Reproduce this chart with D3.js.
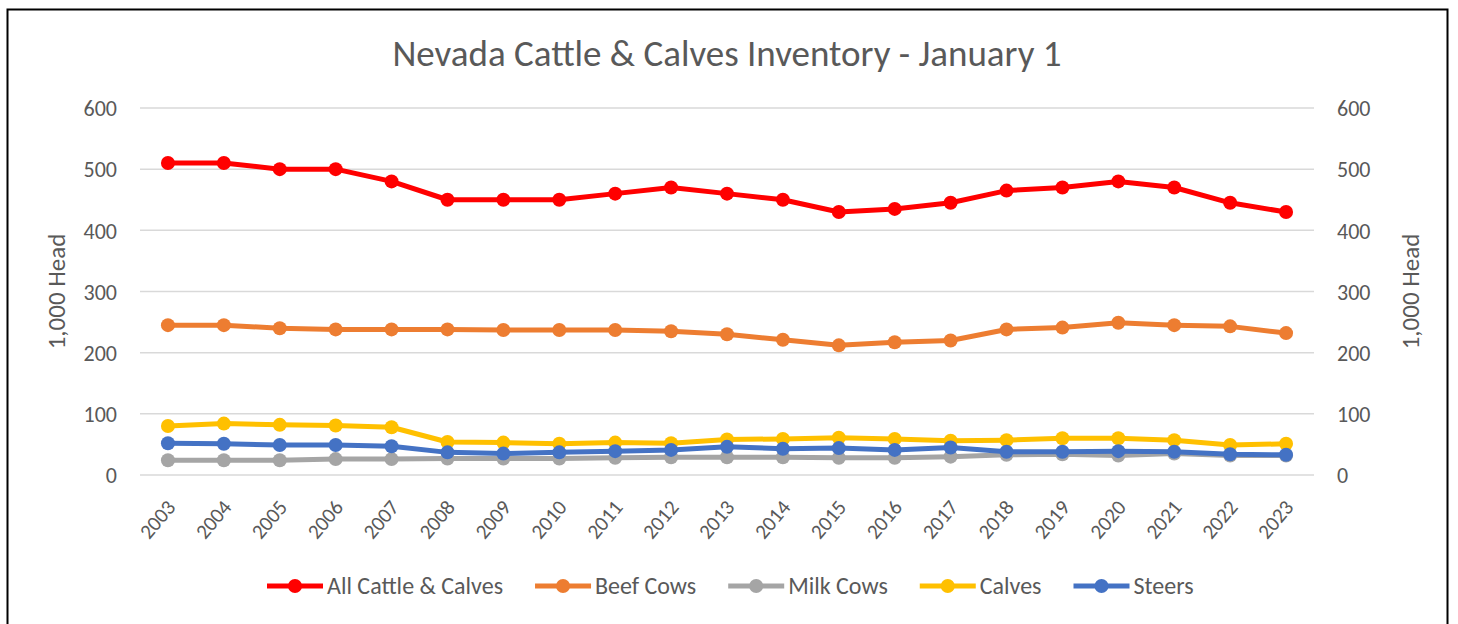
<!DOCTYPE html>
<html>
<head>
<meta charset="utf-8">
<script src="https://cdn.jsdelivr.net/npm/d3@7"></script>
<style>
  body { margin: 0; background: #fff; }
  svg text { font-family: Carlito, "Open Sans", sans-serif; fill: #595959; }
</style>
</head>
<body>
<script>
// Nevada Cattle & Calves Inventory, thousand head, Jan 1
const years = d3.range(2003, 2024).map(String);
const allCattle = [510, 510, 500, 500, 480, 450, 450, 450, 460, 470, 460, 450, 430, 435, 445, 465, 470, 480, 470, 445, 430];
const beefCows = [245, 245, 240, 238, 238, 238, 237, 237, 237, 235, 230, 221, 212, 217, 220, 238, 241, 249, 245, 243, 232];
const milkCows = [24, 24, 24, 26, 26, 27, 27, 27, 28, 29, 29, 29, 28, 28, 30, 33, 34, 32, 35, 32, 32];
const calves = [80, 84, 82, 81, 78, 54, 53, 51, 53, 52, 58, 59, 61, 59, 56, 57, 60, 60, 57, 49, 51];
const steers = [52, 51, 49, 49, 47, 37, 35, 37, 39, 41, 46, 43, 44, 41, 45, 38, 38, 39, 38, 34, 33];
const yTicks = [0, 100, 200, 300, 400, 500, 600];

const series = [
  { name: "All Cattle & Calves", values: allCattle, color: "#ff0000" },
  { name: "Beef Cows", values: beefCows, color: "#ed7d31" },
  { name: "Milk Cows", values: milkCows, color: "#a5a5a5" },
  { name: "Calves", values: calves, color: "#ffc000" },
  { name: "Steers", values: steers, color: "#4472c4" }
];

const width = 1458, height = 624;
const margin = { top: 108, right: 144, bottom: 149, left: 140 };

const svg = d3.select("body").append("svg")
  .attr("width", width)
  .attr("height", height);

// chart frame
svg.append("rect")
  .attr("x", 7.5).attr("y", 9.5)
  .attr("width", 1440).attr("height", 640)
  .attr("fill", "none")
  .attr("stroke", "#000")
  .attr("stroke-width", 2);

const x = d3.scaleBand()
  .domain(years)
  .range([margin.left, width - margin.right]);

const y = d3.scaleLinear()
  .domain([0, 600])
  .range([height - margin.bottom, margin.top]);

// gridlines
svg.append("g")
  .selectAll("line")
  .data(yTicks)
  .join("line")
  .attr("x1", margin.left)
  .attr("x2", width - margin.right)
  .attr("y1", (d) => y(d))
  .attr("y2", (d) => y(d))
  .attr("stroke", "#d9d9d9")
  .attr("stroke-width", 1.5);

// left axis
const leftAxis = svg.append("g")
  .attr("transform", `translate(${margin.left - 23},0)`)
  .call(d3.axisLeft(y).tickValues(yTicks).tickSize(0).tickPadding(0));
leftAxis.select(".domain").remove();
leftAxis.selectAll("text").attr("font-size", 22).attr("dy", "0.35em");

// right axis
const rightAxis = svg.append("g")
  .attr("transform", `translate(${width - margin.right + 23},0)`)
  .call(d3.axisRight(y).tickValues(yTicks).tickSize(0).tickPadding(0));
rightAxis.select(".domain").remove();
rightAxis.selectAll("text").attr("font-size", 22).attr("dy", "0.35em");

// x axis
const xAxis = svg.append("g")
  .attr("transform", `translate(0,${height - margin.bottom})`)
  .call(d3.axisBottom(x).tickSize(0).tickPadding(0));
xAxis.select(".domain").remove();
xAxis.selectAll("text")
  .attr("font-size", 21)
  .attr("text-anchor", "end")
  .attr("dy", "0.35em")
  .attr("transform", "translate(3,28) rotate(-50)");

// axis titles
svg.append("text")
  .attr("transform", `translate(65,${y(300)}) rotate(-90)`)
  .attr("text-anchor", "middle")
  .attr("font-size", 25)
  .text("1,000 Head");

svg.append("text")
  .attr("transform", `translate(1419,${y(300)}) rotate(-90)`)
  .attr("text-anchor", "middle")
  .attr("font-size", 25)
  .text("1,000 Head");

// title
svg.append("text")
  .attr("x", 727)
  .attr("y", 66)
  .attr("text-anchor", "middle")
  .attr("font-size", 37)
  .text("Nevada Cattle & Calves Inventory - January 1");

const line = d3.line()
  .x((d, i) => x(years[i]) + x.bandwidth() / 2)
  .y((d) => y(d));

const plot = svg.append("g");
const groups = plot.selectAll("g")
  .data(series)
  .join("g");

groups.append("path")
  .attr("d", (d) => line(d.values))
  .attr("fill", "none")
  .attr("stroke", (d) => d.color)
  .attr("stroke-width", 5)
  .attr("stroke-linejoin", "round");

groups.selectAll("circle")
  .data((d) => d.values.map((v, i) => ({ v, i, color: d.color })))
  .join("circle")
  .attr("cx", (d) => x(years[d.i]) + x.bandwidth() / 2)
  .attr("cy", (d) => y(d.v))
  .attr("r", 7)
  .attr("fill", (d) => d.color);

// legend
const legend = svg.append("g").attr("transform", "translate(0,586)");
let lx = 267;
series.forEach((s) => {
  const item = legend.append("g").attr("transform", `translate(${lx},0)`);
  item.append("line")
    .attr("x1", 0).attr("x2", 56)
    .attr("stroke", s.color)
    .attr("stroke-width", 5);
  item.append("circle")
    .attr("cx", 28).attr("r", 7)
    .attr("fill", s.color);
  const t = item.append("text")
    .attr("x", 60)
    .attr("dy", "0.35em")
    .attr("font-size", 24)
    .text(s.name);
  lx += 60 + t.node().getComputedTextLength() + 32;
});
</script>
</body>
</html>
